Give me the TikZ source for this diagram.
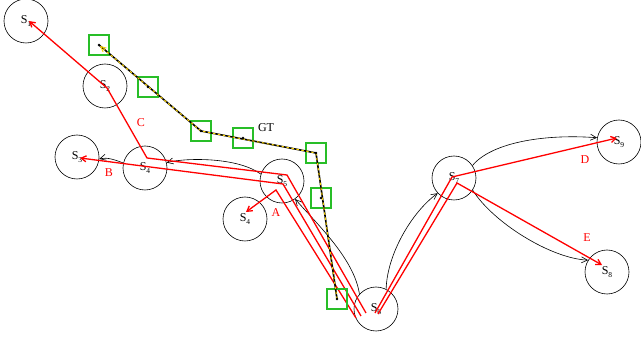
\documentclass[tikz,border=0pt]{standalone}
\usepackage{fontspec}
\setmainfont{Liberation Serif}
\usetikzlibrary{arrows.meta}
\definecolor{gtgreen}{RGB}{40,190,40}
\definecolor{gtyellow}{RGB}{250,210,0}
% state label: S with a lowered small index
\newcommand{\St}[1]{S\raisebox{-3.5pt}{\fontsize{7.5}{7.5}\selectfont #1}}

\begin{document}
\begin{tikzpicture}[x=1pt,y=-1pt,
  state/.style={draw,circle,minimum size=44pt,inner sep=0pt,line width=0.6pt,
    font=\fontsize{12}{12}\selectfont},
  route/.style={draw=red,line width=1.3pt,line join=miter,
    -{Straight Barb[length=5pt,width=6pt]}},
  flow/.style={draw,line width=0.6pt,-{Straight Barb[length=6pt,width=6pt]}},
  gtbox/.style={draw=gtgreen,line width=1.3pt,minimum size=20pt,inner sep=0pt},
  gtdot/.style={fill=black,circle,inner sep=0pt,minimum size=2.6pt},
  rlabel/.style={text=red,font=\fontsize{12}{12}\selectfont},
]
\useasboundingbox (0,0) rectangle (641,339);

% states
\node[state] (s1)  at (26,21)  {\St{1}};
\node[state] (s2)  at (105,86) {\St{2}};
\node[state] (s3)  at (77,157) {\St{3}};
\node[state] (s4)  at (145,168) {\St{4}};
\node[state] (s5)  at (282,181) {\St{5}};
\node[state] (s4b) at (245,219) {\St{4}};
\node[state] (s6)  at (376,309) {\St{6}};
\node[state] (s7)  at (454,178) {\St{7}};
\node[state] (s9)  at (619,142) {\St{9}};
\node[state] (s8)  at (607,272) {\St{8}};

% transitions between states
\draw[flow] (s6.138) .. controls +(-5,-35) and +(22,25) .. (s5.-54);
\draw[flow] (s5.162) .. controls +(-23,-17) and +(20,-5) .. (s4.14);
\draw[flow] (s4.167) .. controls +(-8,-3) and +(8,-2) .. (s3.-5);
\draw[flow] (s6.63) .. controls +(1,-35) and +(-26,19) .. (s7.-137);
\draw[flow] (s7.34) .. controls +(19,-23) and +(-53,-4) .. (s9.169);
\draw[flow] (s7.-33) .. controls +(20,32) and +(-38,-2) .. (s8.148);

% route corners
\coordinate (c0) at (366,313); \coordinate (c1) at (287,175);
\coordinate (c2) at (147,158); \coordinate (c3) at (107,88);
\coordinate (ct) at (29,21);
\coordinate (b0) at (361,316); \coordinate (b1) at (283,184);
\coordinate (bt) at (80,158);
\coordinate (a0) at (356,318); \coordinate (a1) at (276,190);
\coordinate (at) at (246,212);
\coordinate (d0) at (375,313); \coordinate (d1) at (452,177);
\coordinate (dt) at (617,138);
\coordinate (e0) at (378,314); \coordinate (e1) at (457,183);
\coordinate (et) at (602,265);

% predicted routes
\draw[route] (c0) -- (c1) -- (c2) -- (c3) -- (ct);
\draw[route] (b0) -- (b1) -- (bt);
\draw[route] (a0) -- (a1) -- (at);
\draw[route] (d0) -- (d1) -- (dt);
\draw[route] (e0) -- (e1) -- (et);

\node[rlabel] (la) at (276,213) {A};
\node[rlabel] (lb) at (109,173) {B};
\node[rlabel] (lc) at (141,123) {C};
\node[rlabel] (ld) at (585,160) {D};
\node[rlabel] (le) at (587,238) {E};

% ground truth track
\node[gtbox] (g1) at (337,299) {};
\node[gtbox] (g2) at (321,198) {};
\node[gtbox] (g3) at (316,153) {};
\node[gtbox] (g4) at (243,138) {};
\node[gtbox] (g5) at (201,131) {};
\node[gtbox] (g6) at (148,87) {};
\node[gtbox] (g7) at (99,45) {};

\draw[black,line width=1.6pt,line join=round]
  (g1.center) -- (g3.center) -- (g5.center) -- (g7.center);
\draw[gtyellow,line width=1pt,dash pattern=on 2.5pt off 2.5pt,line join=round,
  -{Straight Barb[length=5pt,width=5pt]}]
  (g1.center) -- (g3.center) -- (g5.center) -- ([shift={(1,1)}]g7.center);
\foreach \g in {g1,g2,g3,g4,g5,g6,g7}
  \node[gtdot] at (\g.center) {};

\node[font=\fontsize{12}{12}\selectfont] (gt) at (266,128) {GT};
\end{tikzpicture}
\end{document}
